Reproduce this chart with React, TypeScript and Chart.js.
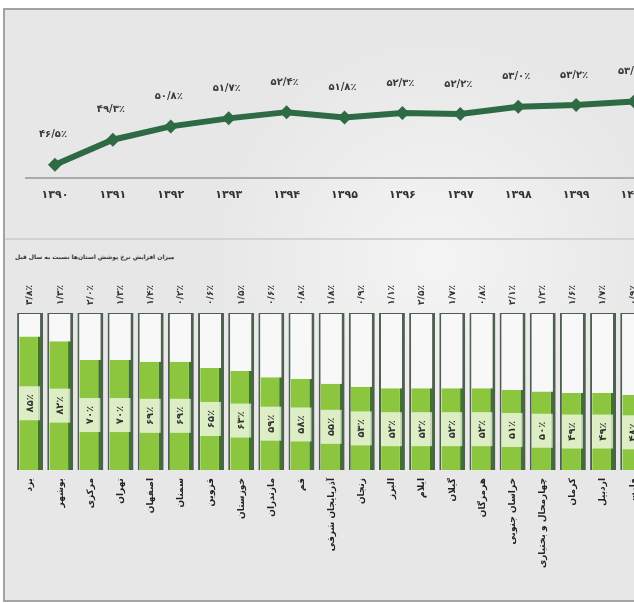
import React, { useEffect, useRef } from "react";
import { Chart, registerables } from "chart.js";

Chart.register(...registerables);

// ---------- data ----------
const years = ["۱۳۹۰", "۱۳۹۱", "۱۳۹۲", "۱۳۹۳", "۱۳۹۴", "۱۳۹۵", "۱۳۹۶", "۱۳۹۷", "۱۳۹۸", "۱۳۹۹", "۱۴۰۰"];
const coverage = [46.5, 49.3, 50.8, 51.7, 52.4, 51.8, 52.3, 52.2, 53.0, 53.2, 53.6];

const provinces = [
  "یزد", "بوشهر", "مرکزی", "تهران", "اصفهان", "سمنان", "قزوین", "خوزستان", "مازندران", "قم",
  "آذربایجان شرقی", "زنجان", "البرز", "ایلام", "گیلان", "هرمزگان", "خراسان جنوبی",
  "چهارمحال و بختیاری", "کرمان", "اردبیل", "فارس",
];
const rates = [85, 82, 70, 70, 69, 69, 65, 63, 59, 58, 55, 53, 52, 52, 52, 52, 51, 50, 49, 49, 48];
const changes = [3.8, 1.3, 2.0, 1.3, 1.4, 0.2, 0.6, 1.5, 0.6, 0.8, 1.8, 0.9, 1.1, 2.5, 1.7, 0.8, 2.1, 1.2, 1.6, 1.7, 0.9];
const rateMax = [100];

const subTitle = "میزان افزایش نرخ پوشش استان‌ها نسبت به سال قبل";

// ---------- helpers ----------
const faDigits = "۰۱۲۳۴۵۶۷۸۹";
const toFa = (s: string) => s.replace(/[0-9]/g, (d) => faDigits[+d]).replace(/\./g, "/");
const pct1 = (v: number) => toFa(v.toFixed(1)) + "٪";
const pct0 = (v: number) => toFa(String(v)) + "٪";

const FONT = '"DejaVu Sans", "Noto Sans", sans-serif';

function LineChart() {
  const ref = useRef<HTMLCanvasElement>(null);
  useEffect(() => {
    const labelPlugin = {
      id: "lineLabels",
      afterDatasetsDraw(chart: any) {
        const ctx = chart.ctx;
        const meta = chart.getDatasetMeta(0);
        ctx.save();
        ctx.font = `bold 10px ${FONT}`;
        ctx.fillStyle = "#3a3a3a";
        ctx.textAlign = "center";
        ctx.textBaseline = "middle";
        meta.data.forEach((pt: any, i: number) => {
          ctx.fillText(pct1(coverage[i]), pt.x - 2, pt.y - 30);
        });
        ctx.restore();
      },
    };
    const chart = new Chart(ref.current!, {
      type: "line",
      data: {
        labels: years,
        datasets: [
          {
            data: coverage,
            borderColor: "#2e6a44",
            backgroundColor: "#2e6a44",
            borderWidth: 6,
            pointStyle: "rectRot",
            pointRadius: 7,
            pointBackgroundColor: "#2e6a44",
            pointBorderWidth: 0,
            tension: 0,
            clip: false as any,
          },
        ],
      },
      options: {
        responsive: false,
        animation: false,
        layout: { padding: { top: 89, left: 26, right: 6, bottom: 0 } },
        plugins: { legend: { display: false }, tooltip: { enabled: false } },
        scales: {
          x: {
            offset: true,
            grid: { display: false, drawTicks: false },
            border: { display: true, color: "#a9a9a9", width: 2 },
            ticks: { color: "#333", font: { family: FONT, size: 11, weight: "bold" }, padding: 11 },
            afterFit: (axis: any) => {
              axis.height = 25;
            },
          },
          y: { display: false, min: 45, max: 55 },
        },
      },
      plugins: [labelPlugin],
    });
    return () => chart.destroy();
  }, []);
  return <canvas ref={ref} width={670} height={203} style={{ position: "absolute", left: 0, top: 0 }} />;
}

function BarChart() {
  const ref = useRef<HTMLCanvasElement>(null);
  useEffect(() => {
    const decor = {
      id: "barDecor",
      afterDatasetsDraw(chart: any) {
        const ctx = chart.ctx;
        const green = chart.getDatasetMeta(0);
        const track = chart.getDatasetMeta(1);
        const yScale = chart.scales.y;
        green.data.forEach((bar: any, i: number) => {
          const p = bar.getProps(["x", "y", "base"], true);
          const tw = track.data[i].getProps(["width"], true).width;
          const mid = (p.y + p.base) / 2;
          ctx.save();
          ctx.fillStyle = "rgba(255,255,255,0.7)";
          ctx.fillRect(p.x - tw / 2 + 2, mid - 17, tw - 5, 34);
          ctx.translate(p.x, mid);
          ctx.rotate(-Math.PI / 2);
          ctx.font = `bold 10px ${FONT}`;
          ctx.fillStyle = "#333";
          ctx.textAlign = "center";
          ctx.textBaseline = "middle";
          ctx.fillText(pct0(rates[i]), 0, 0);
          ctx.restore();

          ctx.save();
          ctx.translate(p.x, yScale.getPixelForValue(rateMax[0]) - 18);
          ctx.rotate(-Math.PI / 2);
          ctx.font = `bold 9px ${FONT}`;
          ctx.fillStyle = "#333";
          ctx.textAlign = "center";
          ctx.textBaseline = "middle";
          ctx.fillText(pct1(changes[i]), 0, 0);
          ctx.restore();
        });
      },
    };
    const chart = new Chart(ref.current!, {
      type: "bar",
      data: {
        labels: provinces,
        datasets: [
          {
            data: rates,
            backgroundColor: "#8cc63f",
            borderColor: "#3d7428",
            borderWidth: { left: 0, right: 3, top: 0, bottom: 0 } as any,
            borderSkipped: false,
            barPercentage: 0.72,
            categoryPercentage: 1,
            grouped: false,
          },
          {
            data: provinces.map(() => rateMax[0]),
            backgroundColor: "#f8f8f8",
            borderColor: "#4f5f50",
            borderWidth: { left: 2, right: 3, top: 1, bottom: 0 } as any,
            borderSkipped: false,
            barPercentage: 0.86,
            categoryPercentage: 1,
            grouped: false,
          },
        ],
      },
      options: {
        responsive: false,
        animation: false,
        layout: { padding: { top: 68, left: 15, right: 0, bottom: 0 } },
        plugins: { legend: { display: false }, tooltip: { enabled: false } },
        scales: {
          x: {
            grid: { display: false, drawTicks: false },
            border: { display: false },
            ticks: {
              color: "#222",
              font: { family: FONT, size: 9, weight: "bold" },
              padding: 8,
              minRotation: 90,
              maxRotation: 90,
              autoSkip: false,
            },
            afterFit: (axis: any) => {
              axis.height = 125;
            },
          },
          y: { display: false, min: 0, max: 100 },
        },
      },
      plugins: [decor],
    });
    return () => chart.destroy();
  }, []);
  return <canvas ref={ref} width={652} height={350} style={{ position: "absolute", left: 0, top: 245 }} />;
}

export default function App() {
  return (
    <div
      style={{
        position: "fixed",
        left: 0,
        top: 0,
        width: 634,
        height: 603,
        overflow: "hidden",
        background: "#ffffff",
      }}
    >
      <div
        style={{
          position: "absolute",
          left: 3,
          top: 8,
          width: 660,
          height: 590,
          border: "2px solid #a3a3a3",
          background:
            "radial-gradient(circle at 430px 250px, rgba(255,255,255,0.55) 0px, rgba(255,255,255,0) 230px), #e7e7e7",
        }}
      />
      <div
        style={{
          position: "absolute",
          left: 5,
          top: 238,
          width: 640,
          height: 2,
          background: "#d2d2d2",
        }}
      />
      <div
        dir="rtl"
        style={{
          position: "absolute",
          left: 15,
          top: 253,
          fontFamily: FONT,
          fontWeight: "bold",
          fontSize: 6,
          color: "#333",
          whiteSpace: "nowrap",
        }}
      >
        {subTitle}
      </div>
      <LineChart />
      <BarChart />
    </div>
  );
}
